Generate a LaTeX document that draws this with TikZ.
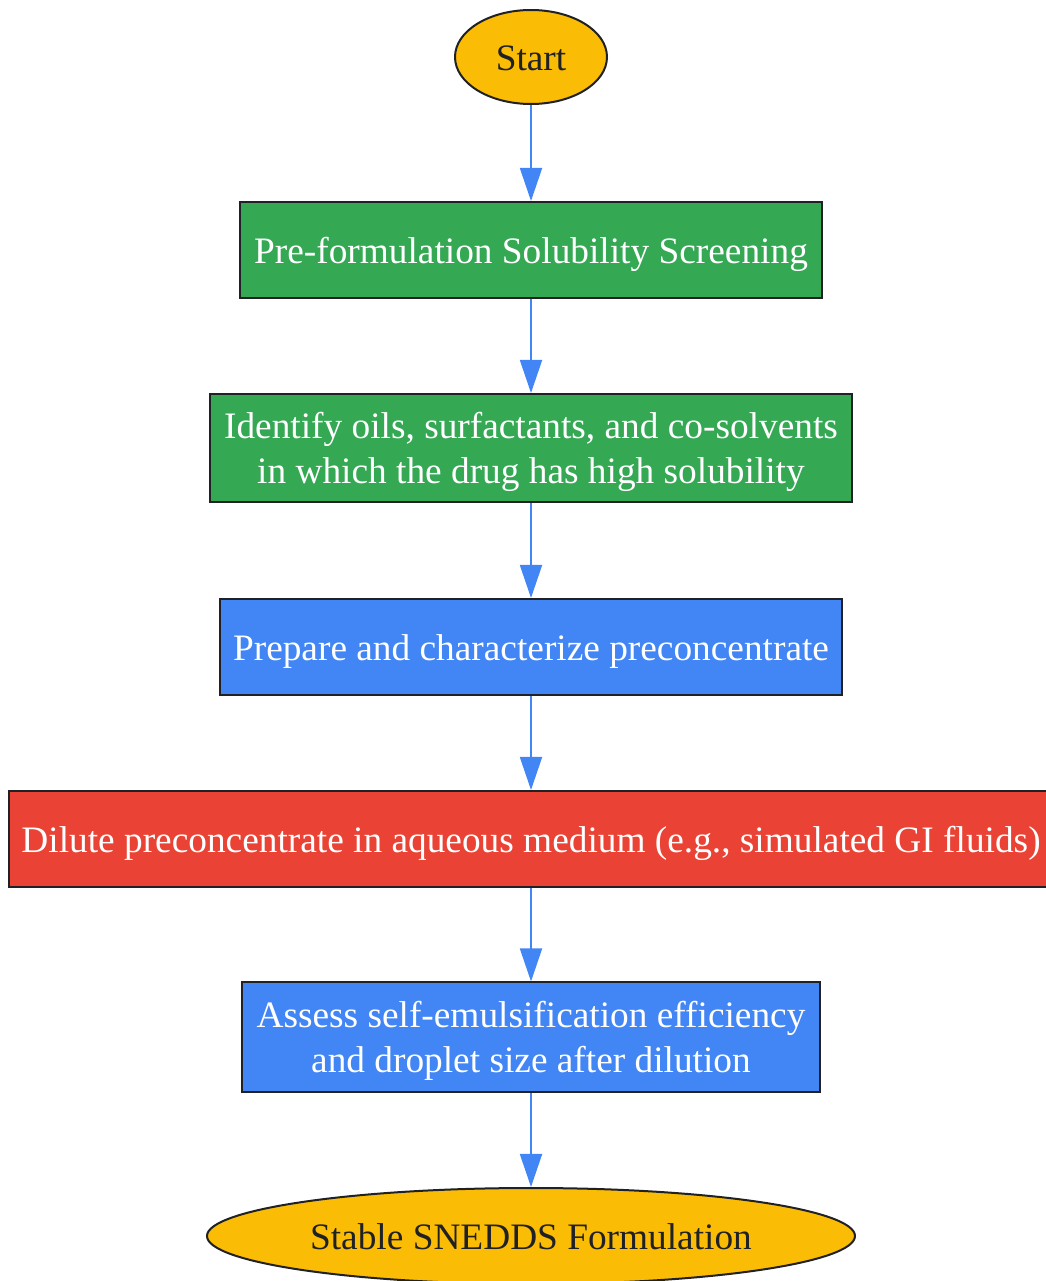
\documentclass[tikz,border=0pt]{standalone}
\usepackage{fontspec}
\setmainfont{Liberation Serif}
\usetikzlibrary{shapes.geometric,arrows.meta}

\definecolor{stepyellow}{HTML}{FBBC05}
\definecolor{stepgreen}{HTML}{34A853}
\definecolor{stepblue}{HTML}{4285F4}
\definecolor{stepred}{HTML}{EA4335}
\definecolor{edgedark}{HTML}{202124}

\begin{document}
\begin{tikzpicture}[x=0.375pt, y=-0.375pt,
    stepbox/.style={rectangle, draw=edgedark, line width=0.75pt, inner sep=0pt,
        text=white, align=center, font=\fontsize{14}{16.8}\selectfont,
        execute at begin node={\rule[-3pt]{0pt}{16.1pt}}},
    twoline/.style={text depth=-1.5pt},
    terminal/.style={ellipse, draw=edgedark, line width=0.75pt, inner sep=0pt,
        fill=stepyellow, text=edgedark, font=\fontsize{14}{16.8}\selectfont,
        execute at begin node={\rule[-3pt]{0pt}{16.1pt}}},
    flow/.style={draw=stepblue, line width=0.75pt, -{Triangle[length=12.4pt, width=8.25pt]}}]
    \useasboundingbox (0,0) rectangle (1046,1281);

    % Start and end
    \node[terminal, minimum width=57pt, minimum height=35.25pt] (start) at (531,57) {Start};
    \node[terminal, minimum width=243pt, minimum height=36pt] (stable) at (531,1236) {Stable SNEDDS Formulation};

    % Screening
    \node[stepbox, fill=stepgreen, minimum width=218.25pt, minimum height=36pt] (screen) at (531,250)
        {Pre-formulation Solubility Screening};
    \node[stepbox, twoline, fill=stepgreen, minimum width=240.75pt, minimum height=40.5pt] (identify) at (531,448)
        {Identify oils, surfactants, and co-solvents\\in which the drug has high solubility};

    % Preparation and testing
    \node[stepbox, fill=stepblue, minimum width=233.25pt, minimum height=36pt] (prepare) at (531,647)
        {Prepare and characterize preconcentrate};
    \node[stepbox, fill=stepred, minimum width=391.5pt, minimum height=36pt] (dilute) at (531,839)
        {Dilute preconcentrate in aqueous medium (e.g., simulated GI fluids)};
    \node[stepbox, twoline, fill=stepblue, minimum width=216.75pt, minimum height=40.9pt] (assess) at (531,1037)
        {Assess self-emulsification efficiency\\and droplet size after dilution};

    % Arrows
    \draw[flow] (start) -- (screen);
    \draw[flow] (screen) -- (identify);
    \draw[flow] (identify) -- (prepare);
    \draw[flow] (prepare) -- (dilute);
    \draw[flow] (dilute) -- (assess);
    \draw[flow] (assess) -- (stable);
\end{tikzpicture}
\end{document}
